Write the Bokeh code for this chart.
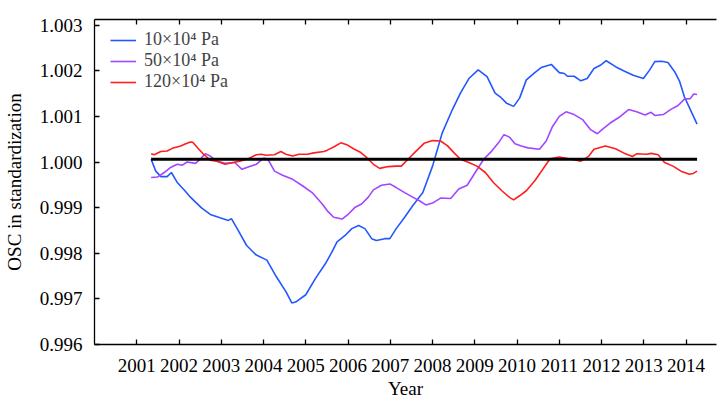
from bokeh.plotting import figure
from bokeh.models import (Range1d, FixedTicker, LinearAxis, NumeralTickFormatter,
                          Legend, LegendItem)
from bokeh.embed import file_html
from bokeh.resources import INLINE

# ---------------- data ----------------
series_names = ["10\u00d710\u2074 Pa", "50\u00d710\u2074 Pa", "120\u00d710\u2074 Pa"]

x_10 = [2001.34, 2001.45, 2001.57, 2001.72, 2001.82, 2001.96, 2002.16, 2002.27, 2002.39,
        2002.54, 2002.74, 2002.97, 2003.17, 2003.24, 2003.40, 2003.60, 2003.83, 2004.08,
        2004.30, 2004.53, 2004.67, 2004.76, 2005.00, 2005.23, 2005.47, 2005.62, 2005.74,
        2005.93, 2006.09, 2006.25, 2006.40, 2006.56, 2006.67, 2006.87, 2006.99, 2007.14,
        2007.34, 2007.53, 2007.77, 2008.00, 2008.23, 2008.47, 2008.66, 2008.86, 2009.08,
        2009.29, 2009.48, 2009.60, 2009.75, 2009.92, 2010.06, 2010.22, 2010.42, 2010.57,
        2010.81, 2011.00, 2011.12, 2011.19, 2011.35, 2011.51, 2011.66, 2011.82, 2011.97,
        2012.11, 2012.33, 2012.52, 2012.75, 2012.99, 2013.14, 2013.26, 2013.42, 2013.57,
        2013.73, 2013.85, 2013.96, 2014.12, 2014.26]
y_10 = [1.00006, 0.99980, 0.99968, 0.99968, 0.99977, 0.99955, 0.99935, 0.99923, 0.99912,
        0.99899, 0.99885, 0.99878, 0.99872, 0.99876, 0.99850, 0.99817, 0.99796, 0.99785,
        0.99749, 0.99716, 0.99691, 0.99693, 0.99709, 0.99745, 0.99778, 0.99803, 0.99825,
        0.99839, 0.99854, 0.99861, 0.99854, 0.99832, 0.99828, 0.99832, 0.99832, 0.99854,
        0.99879, 0.99904, 0.99933, 0.99991, 1.00064, 1.00115, 1.00151, 1.00183, 1.00202,
        1.00187, 1.00151, 1.00143, 1.00129, 1.00122, 1.00140, 1.00180, 1.00196, 1.00207,
        1.00214, 1.00196, 1.00194, 1.00188, 1.00188, 1.00178, 1.00183, 1.00205, 1.00212,
        1.00222, 1.00209, 1.00200, 1.00190, 1.00183, 1.00202, 1.00220, 1.00221, 1.00218,
        1.00198, 1.00176, 1.00143, 1.00111, 1.00083]

x_50 = [2001.34, 2001.49, 2001.65, 2001.80, 2001.96, 2002.08, 2002.19, 2002.39, 2002.51,
        2002.62, 2002.74, 2002.89, 2003.09, 2003.32, 2003.49, 2003.67, 2003.83, 2003.99,
        2004.10, 2004.26, 2004.45, 2004.69, 2004.92, 2005.15, 2005.39, 2005.51, 2005.66,
        2005.86, 2006.01, 2006.17, 2006.32, 2006.48, 2006.60, 2006.79, 2006.99, 2007.14,
        2007.34, 2007.53, 2007.69, 2007.84, 2008.00, 2008.19, 2008.43, 2008.62, 2008.82,
        2009.01, 2009.21, 2009.40, 2009.56, 2009.69, 2009.83, 2009.95, 2010.10, 2010.26,
        2010.53, 2010.69, 2010.84, 2011.00, 2011.16, 2011.35, 2011.55, 2011.74, 2011.90,
        2012.01, 2012.21, 2012.40, 2012.64, 2012.83, 2013.03, 2013.17, 2013.26, 2013.46,
        2013.65, 2013.81, 2013.96, 2014.10, 2014.18, 2014.26]
y_50 = [0.99966, 0.99967, 0.99977, 0.99988, 0.99995, 0.99993, 1.00000, 0.99997, 1.00007,
        1.00018, 1.00013, 1.00002, 0.99997, 0.99999, 0.99984, 0.99990, 0.99995, 1.00008,
        1.00007, 0.99980, 0.99971, 0.99962, 0.99948, 0.99933, 0.99908, 0.99893, 0.99879,
        0.99875, 0.99886, 0.99901, 0.99908, 0.99923, 0.99939, 0.99949, 0.99952, 0.99944,
        0.99933, 0.99923, 0.99915, 0.99906, 0.99910, 0.99921, 0.99920, 0.99941, 0.99949,
        0.99977, 1.00006, 1.00024, 1.00042, 1.00060, 1.00054, 1.00040, 1.00035, 1.00031,
        1.00028, 1.00046, 1.00078, 1.00100, 1.00110, 1.00104, 1.00093, 1.00071, 1.00062,
        1.00071, 1.00086, 1.00097, 1.00115, 1.00110, 1.00103, 1.00109, 1.00102, 1.00104,
        1.00116, 1.00124, 1.00138, 1.00139, 1.00149, 1.00148]

x_120 = [2001.34, 2001.41, 2001.57, 2001.72, 2001.84, 2002.04, 2002.16, 2002.27, 2002.33,
         2002.47, 2002.58, 2002.74, 2002.89, 2003.09, 2003.28, 2003.44, 2003.64, 2003.83,
         2003.95, 2004.06, 2004.26, 2004.41, 2004.53, 2004.69, 2004.84, 2005.04, 2005.19,
         2005.43, 2005.51, 2005.66, 2005.83, 2005.97, 2006.13, 2006.28, 2006.44, 2006.60,
         2006.75, 2006.95, 2007.14, 2007.26, 2007.42, 2007.61, 2007.80, 2008.00, 2008.19,
         2008.35, 2008.51, 2008.66, 2008.86, 2009.05, 2009.25, 2009.44, 2009.64, 2009.83,
         2009.92, 2010.06, 2010.22, 2010.42, 2010.61, 2010.78, 2011.00, 2011.23, 2011.51,
         2011.70, 2011.82, 2012.09, 2012.33, 2012.52, 2012.73, 2012.83, 2013.06, 2013.18,
         2013.34, 2013.49, 2013.69, 2013.88, 2014.08, 2014.17, 2014.26]
y_120 = [1.00018, 1.00016, 1.00023, 1.00024, 1.00030, 1.00035, 1.00040, 1.00044, 1.00043,
         1.00028, 1.00017, 1.00004, 1.00002, 0.99995, 0.99999, 1.00002, 1.00007, 1.00016,
         1.00017, 1.00015, 1.00016, 1.00023, 1.00017, 1.00013, 1.00017, 1.00017, 1.00020,
         1.00023, 1.00026, 1.00033, 1.00042, 1.00038, 1.00029, 1.00022, 1.00010, 0.99995,
         0.99986, 0.99990, 0.99991, 0.99991, 1.00006, 1.00024, 1.00041, 1.00047, 1.00046,
         1.00036, 1.00020, 1.00006, 0.99999, 0.99991, 0.99977, 0.99955, 0.99937, 0.99922,
         0.99917, 0.99926, 0.99937, 0.99959, 0.99984, 1.00007, 1.00011, 1.00007, 1.00002,
         1.00013, 1.00028, 1.00035, 1.00029, 1.00020, 1.00012, 1.00018, 1.00017, 1.00019,
         1.00016, 0.99999, 0.99991, 0.99980, 0.99973, 0.99975, 0.99980]

ref_level = 1.00006
x_ticks = [2001, 2002, 2003, 2004, 2005, 2006, 2007, 2008, 2009, 2010, 2011, 2012, 2013, 2014]
y_ticks = [0.996, 0.997, 0.998, 0.999, 1.000, 1.001, 1.002, 1.003]

# ---------------- styling ----------------
FONT = "Liberation Serif"
colors = ["#2457FF", "#A246FF", "#FF1E1E"]

p = figure(width=717, height=401, output_backend="svg", toolbar_location=None,
           x_range=Range1d(2000.0, 2014.72), y_range=Range1d(0.996, 1.003124),
           min_border_left=86, min_border_top=19, min_border_right=1, min_border_bottom=54)
p.outline_line_color = None
p.grid.visible = False
p.background_fill_color = "white"
p.border_fill_color = "white"

r10 = p.line(x_10, y_10, line_color=colors[0], line_width=1.6)
r50 = p.line(x_50, y_50, line_color=colors[1], line_width=1.6)
r120 = p.line(x_120, y_120, line_color=colors[2], line_width=1.6)
p.line([x_10[0], x_10[-1]], [ref_level, ref_level], line_color="black", line_width=3)

for ax in (p.xaxis[0], p.yaxis[0]):
    ax.major_tick_in = 5
    ax.major_tick_out = 0
    ax.minor_tick_line_color = None
    ax.axis_line_color = "black"
    ax.axis_line_width = 1.3
    ax.major_tick_line_width = 1.3
    ax.major_label_text_font = FONT
    ax.major_label_text_font_size = "19px"
    ax.major_label_text_color = "black"
    ax.axis_label_text_font = FONT
    ax.axis_label_text_font_size = "19px"
    ax.axis_label_text_font_style = "normal"
    ax.axis_label_text_color = "black"

p.xaxis[0].ticker = FixedTicker(ticks=x_ticks)
p.xaxis[0].axis_label = "Year"
p.xaxis[0].major_label_standoff = 14
p.xaxis[0].axis_label_standoff = 3

p.yaxis[0].ticker = FixedTicker(ticks=y_ticks)
p.yaxis[0].formatter = NumeralTickFormatter(format="0.000")
p.yaxis[0].axis_label = "OSC in standardization"
p.yaxis[0].major_label_standoff = 12
p.yaxis[0].axis_label_standoff = 12

top = LinearAxis(ticker=FixedTicker(ticks=x_ticks), major_tick_in=5, major_tick_out=0,
                 minor_tick_line_color=None,
                 major_label_overrides={t: "" for t in x_ticks},
                 major_label_text_font_size="0px",
                 major_label_standoff=0, axis_line_width=1.3, major_tick_line_width=1.3)
p.add_layout(top, "above")

legend = Legend(items=[LegendItem(label=series_names[0], renderers=[r10]),
                       LegendItem(label=series_names[1], renderers=[r50]),
                       LegendItem(label=series_names[2], renderers=[r120])],
                location=(16, 252), padding=0, spacing=0, margin=0,
                glyph_width=26, glyph_height=20, label_height=20, label_standoff=8,
                label_text_font=FONT, label_text_font_size="18px",
                border_line_color=None, background_fill_alpha=0)
p.add_layout(legend, "center")

open("out.html", "w").write(file_html(p, INLINE))
